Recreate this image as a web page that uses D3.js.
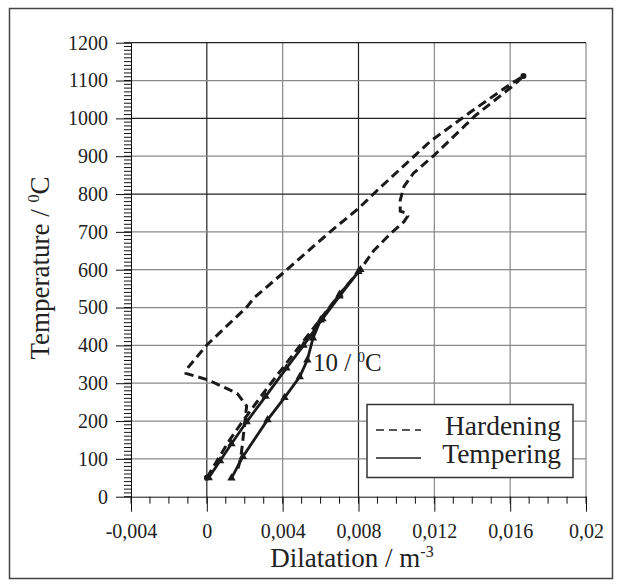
<!DOCTYPE html>
<html>
<head>
<meta charset="utf-8">
<script src="https://cdn.jsdelivr.net/npm/d3@7"></script>
<style>
  body { margin: 0; background: #fff; }
</style>
</head>
<body>
<div id="chart-div"></div>
<script>
// hardening: heating up to ~1110 C, then cooling (dilatation, temperature)
var hardeningHeatX = [0.0000, 0.0006, 0.0012, 0.0019, 0.0030, 0.0040, 0.0050, 0.0060, 0.0070, 0.0081, 0.0088, 0.0097, 0.0104, 0.0106, 0.0105, 0.0102, 0.0102, 0.0104, 0.0109, 0.0120, 0.0142, 0.0162, 0.0167];
var hardeningHeatT = [50, 100, 150, 200, 275, 340, 405, 470, 535, 601, 650, 696, 727, 742, 750, 755, 784, 820, 855, 903, 1009, 1088, 1112];
var hardeningCoolX = [0.0167, 0.0160, 0.0140, 0.0118, 0.0091, 0.0080, 0.0065, 0.0039, 0.0025, 0.0021, 0.0000, -0.0011, -0.0011, 0.0001, 0.0016, 0.0021, 0.0020, 0.0018, 0.0016];
var hardeningCoolT = [1112, 1090, 1020, 940, 815, 762, 700, 586, 526, 501, 401, 335, 326, 308, 273, 240, 194, 106, 65];

// tempering: heating to 600 C and back
var temperingHeatX = [0.0013, 0.0019, 0.0032, 0.0041, 0.0049, 0.0053, 0.0056, 0.0060, 0.0070, 0.0081];
var temperingHeatT = [49, 106, 203, 262, 317, 361, 419, 467, 535, 600];
var temperingCoolX = [0.0080, 0.0070, 0.0061, 0.0051, 0.0042, 0.0031, 0.0021, 0.0013, 0.0007, 0.0001];
var temperingCoolT = [595, 530, 470, 400, 340, 265, 198, 140, 95, 50];

var xTicks = [-0.004, 0, 0.004, 0.008, 0.012, 0.016, 0.02];
var xTickLabels = ["-0,004", "0", "0,004", "0,008", "0,012", "0,016", "0,02"];
var yTicks = [0, 100, 200, 300, 400, 500, 600, 700, 800, 900, 1000, 1100, 1200];

var chartW = 622
var chartH = 587

var svg = d3.select('#chart-div')
            .append('svg')
            .attr("width", chartW)
            .attr("height", chartH);

// outer frame
svg.append("rect")
    .attr("x", 9.5).attr("y", 8.5)
    .attr("width", 603).attr("height", 570)
    .attr("fill", "none")
    .attr("stroke", "#444")
    .attr("stroke-width", 1.5);

var x = d3.scaleLinear().domain([-0.004, 0.02]).range([131, 586]);
var y = d3.scaleLinear().domain([0, 1200]).range([496.7, 42.7]);

// grid
var darkX = [0, 0.008];
var darkY = [1200, 1000, 800];
svg.append("g").selectAll("line")
    .data(xTicks.slice(1))
    .enter().append("line")
    .attr("x1", function(d) { return x(d); })
    .attr("x2", function(d) { return x(d); })
    .attr("y1", y(0)).attr("y2", y(1200))
    .attr("stroke", function(d) { return darkX.indexOf(d) >= 0 ? "#222" : "#888"; })
    .attr("stroke-width", 1.2);
svg.append("g").selectAll("line")
    .data(yTicks.slice(1))
    .enter().append("line")
    .attr("y1", function(d) { return y(d); })
    .attr("y2", function(d) { return y(d); })
    .attr("x1", x(-0.004)).attr("x2", x(0.02))
    .attr("stroke", function(d) { return darkY.indexOf(d) >= 0 ? "#222" : "#888"; })
    .attr("stroke-width", 1.2);

// minor ticks as plain lines (no empty labels)
svg.append("g").selectAll("line")
    .data(d3.range(0, 1201, 10))
    .enter().append("line")
    .attr("x1", x(-0.004) - 7).attr("x2", x(-0.004))
    .attr("y1", function(d) { return y(d); })
    .attr("y2", function(d) { return y(d); })
    .attr("stroke", "#111");
svg.append("g").selectAll("line")
    .data(d3.range(-4, 21, 1).map(function(d) { return d / 1000; }))
    .enter().append("line")
    .attr("x1", function(d) { return x(d); })
    .attr("x2", function(d) { return x(d); })
    .attr("y1", y(0)).attr("y2", y(0) + 7)
    .attr("stroke", "#111");

// major axes
var yAxisG = svg.append("g")
    .attr("transform", "translate(" + x(-0.004) + ",0)")
    .call(d3.axisLeft(y).tickValues(yTicks).tickSize(15).tickSizeOuter(0).tickPadding(8)
        .tickFormat(function(d) { return String(d); }));
yAxisG.selectAll("text")
    .style("font-family", "'Liberation Serif', serif")
    .style("font-size", "20px")
    .attr("fill", "#222");

var xAxisG = svg.append("g")
    .attr("transform", "translate(0," + y(0) + ")")
    .call(d3.axisBottom(x).tickValues(xTicks).tickSize(15).tickSizeOuter(0).tickPadding(12)
        .tickFormat(function(d, i) { return xTickLabels[i]; }));
xAxisG.selectAll("text")
    .style("font-family", "'Liberation Serif', serif")
    .style("font-size", "20px")
    .attr("fill", "#222");

svg.selectAll(".tick line, .domain").attr("stroke", "#111");

// curves
var lineGen = d3.line()
    .x(function(d) { return x(d[0]); })
    .y(function(d) { return y(d[1]); });

var hardening = d3.zip(hardeningHeatX, hardeningHeatT).concat(d3.zip(hardeningCoolX, hardeningCoolT));
var tempering = d3.zip(temperingHeatX, temperingHeatT).concat(d3.zip(temperingCoolX, temperingCoolT));

svg.append("path")
    .datum(hardening)
    .attr("d", lineGen)
    .attr("fill", "none")
    .attr("stroke", "#1a1a1a")
    .attr("stroke-width", 3)
    .attr("stroke-dasharray", "9,5");

svg.append("path")
    .datum(tempering)
    .attr("d", lineGen)
    .attr("fill", "none")
    .attr("stroke", "#1a1a1a")
    .attr("stroke-width", 2.8);

svg.append("g").selectAll("path")
    .data(tempering)
    .enter().append("path")
    .attr("transform", function(d) { return "translate(" + x(d[0]) + "," + y(d[1]) + ")"; })
    .attr("d", d3.symbol().type(d3.symbolTriangle).size(30))
    .attr("fill", "#1a1a1a");

// end dots of hardening path
svg.append("g").selectAll("circle")
    .data([hardening[0], hardening[hardeningHeatX.length - 1]])
    .enter().append("circle")
    .attr("cx", function(d) { return x(d[0]); })
    .attr("cy", function(d) { return y(d[1]); })
    .attr("r", 3)
    .attr("fill", "#1a1a1a");

// annotation
var note = svg.append("text")
    .attr("x", 313).attr("y", 370.6)
    .style("font-family", "'Liberation Serif', serif")
    .style("font-size", "25px")
    .attr("fill", "#222");
note.append("tspan").text("10 / ");
note.append("tspan").attr("dy", -9).style("font-size", "15px").text("0");
note.append("tspan").attr("dy", 9).text("C");

// axis titles
var xTitle = svg.append("text")
    .attr("x", 352).attr("y", 566.7)
    .attr("text-anchor", "middle")
    .style("font-family", "'Liberation Serif', serif")
    .style("font-size", "27px")
    .attr("fill", "#222");
xTitle.append("tspan").text("Dilatation / m");
xTitle.append("tspan").attr("dy", -10).style("font-size", "16px").text("-3");

var yTitle = svg.append("text")
    .attr("transform", "translate(49,268) rotate(-90)")
    .attr("text-anchor", "middle")
    .style("font-family", "'Liberation Serif', serif")
    .style("font-size", "27px")
    .attr("fill", "#222");
yTitle.append("tspan").text("Temperature / ");
yTitle.append("tspan").attr("dy", -10).style("font-size", "16px").text("0");
yTitle.append("tspan").attr("dy", 10).text("C");

// Legend
var legend = svg.append("g").attr("class", "legend");
legend.append("rect")
    .attr("x", 367).attr("y", 404.5)
    .attr("width", 206).attr("height", 73)
    .attr("fill", "#fff")
    .attr("stroke", "#333")
    .attr("stroke-width", 1.5);
var legendItems = ["Hardening", "Tempering"];
legend.selectAll("line")
    .data(legendItems)
    .enter().append("line")
    .attr("x1", 376).attr("x2", 421)
    .attr("y1", function(d, i) { return 430 + i * 28; })
    .attr("y2", function(d, i) { return 430 + i * 28; })
    .attr("stroke", "#222")
    .attr("stroke-width", 1.5)
    .attr("stroke-dasharray", function(d, i) { return i == 0 ? "8,5" : null; });
legend.selectAll("text")
    .data(legendItems)
    .enter().append("text")
    .attr("x", 561)
    .attr("y", function(d, i) { return 435 + i * 28; })
    .attr("text-anchor", "end")
    .style("font-family", "'Liberation Serif', serif")
    .style("font-size", "27.5px")
    .attr("fill", "#222")
    .text(function(d) { return d; });
</script>
</body>
</html>
